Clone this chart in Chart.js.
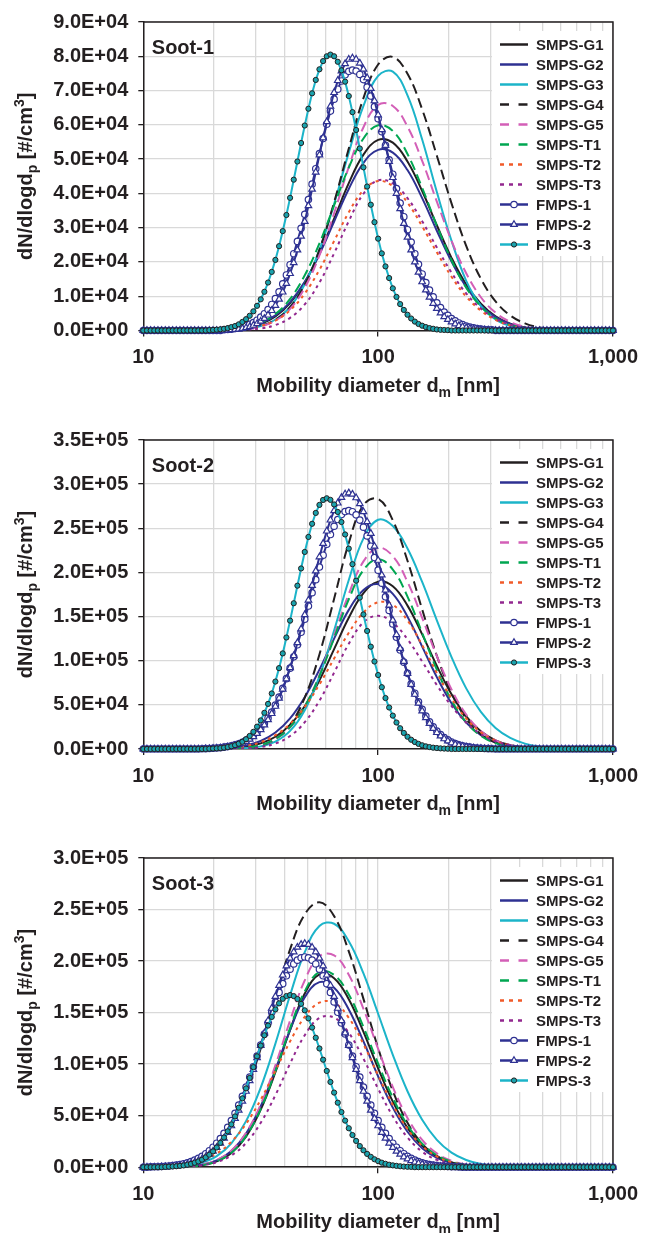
<!DOCTYPE html>
<html>
<head>
  <meta charset="utf-8">
  <title>Soot mobility size distributions</title>
  <script src="https://cdn.jsdelivr.net/npm/chart.js"></script>
  <style>
    html, body { margin: 0; padding: 0; background: #fff; overflow: hidden; }
    .panel { position: absolute; left: 0; }
  </style>
</head>
<body>
  <canvas id="soot1" class="panel" width="647" height="418" style="top:0px"></canvas>
  <canvas id="soot2" class="panel" width="647" height="418" style="top:418px"></canvas>
  <canvas id="soot3" class="panel" width="647" height="418" style="top:836px"></canvas>

<script>
// diameter grids 10-1000 nm: SMPS every 1/16 decade, FMPS every 1/64 decade
const SMPS_PER_DECADE = 16;
const FMPS_PER_DECADE = 64;
const dSmps = [];
for (let j = 0; j <= 2 * SMPS_PER_DECADE; j++) dSmps.push(Math.pow(10, 1 + j / SMPS_PER_DECADE));
const dFmps = [];
for (let i = 0; i <= 2 * FMPS_PER_DECADE; i++) dFmps.push(Math.pow(10, 1 + i / FMPS_PER_DECADE));

const xGrid = [10, 20, 30, 40, 50, 60, 70, 80, 90, 100, 200, 300, 400, 500, 600, 700, 800, 900, 1000];
const xLabels = { 10: '10', 100: '100', 1000: '1,000' };

const seriesNames = ['SMPS-G1', 'SMPS-G2', 'SMPS-G3', 'SMPS-G4', 'SMPS-G5', 'SMPS-T1', 'SMPS-T2', 'SMPS-T3', 'FMPS-1', 'FMPS-2', 'FMPS-3'];

// dN/dlogdp in 1000 #/cm3, SMPS on the 1/16 grid
const soot1G1 = [0,0,0,0,0,0.1,0.3,0.8,1.9,4.1,8.0,14.0,22.5,32.6,43.0,51.3,55.6,54.8,49.3,40.7,30.7,21.2,13.4,7.8,4.1,2.0,0.9,0.4,0.1,0,0,0,0];
const soot1G2 = [0,0,0,0,0,0.1,0.4,0.9,2.1,4.4,8.3,14.2,22.3,31.8,41.3,48.9,52.7,51.9,46.8,38.6,29.1,20.1,12.7,7.3,3.9,1.9,0.8,0.3,0.1,0,0,0,0];
const soot1G3 = [0,0,0,0,0,0.05,0.2,0.5,1.3,3.2,6.9,13.5,23.5,36.9,51.9,65.5,74.3,75.5,68.6,55.7,40.4,26.2,14.5,7.2,3.2,1.3,0.5,0.2,0.05,0,0,0,0];
const soot1G4 = [0,0,0,0,0,0.05,0.15,0.5,1.3,3.1,6.8,13.4,23.6,37.4,53.1,67.8,77.6,79.8,74.9,64.5,51.0,37.1,24.7,15.1,8.5,4.4,2.1,0.9,0.4,0.1,0.05,0,0];
const soot1G5 = [0,0,0,0,0,0.04,0.14,0.4,1.2,2.9,6.3,12.5,21.9,34.2,47.7,59.3,65.8,65.5,59.5,49.5,37.6,26.2,16.7,9.7,5.2,2.5,1.1,0.5,0.2,0.06,0,0,0];
const soot1T1 = [0,0,0,0,0,0.1,0.4,1.0,2.3,4.8,9.2,16.1,25.4,36.5,47.5,56.0,59.9,58.2,51.5,41.6,30.6,20.5,12.5,7.0,3.5,1.6,0.7,0.3,0.1,0,0,0,0];
const soot1T2 = [0,0,0,0,0,0.06,0.2,0.5,1.3,2.9,5.9,10.8,17.7,26.1,34.5,40.9,43.6,42.1,37.3,30.4,22.8,15.7,9.9,5.8,3.1,1.5,0.7,0.3,0.1,0,0,0,0];
const soot1T3 = [0,0,0,0,0,0,0.05,0.2,0.6,1.6,3.7,7.6,14.0,22.5,31.9,39.9,43.8,42.9,38.6,31.9,24.2,16.9,10.8,6.4,3.5,1.7,0.8,0.3,0.1,0,0,0,0];

const soot2G1 = [0,0,0,0,0.1,0.3,1.0,2.7,6.4,13.9,27.3,48.5,77.9,113.2,148.7,176.5,189.6,184.3,162.4,129.9,94.1,61.9,36.9,20.0,9.8,4.4,1.8,0.6,0.2,0.07,0,0,0];
const soot2G2 = [0,0,0,0,0.2,0.6,1.6,4.0,9.1,18.6,34.7,58.7,89.9,125.0,157.6,180.2,186.9,175.7,149.9,116.0,81.4,51.8,29.9,15.7,7.4,3.2,1.3,0.4,0.1,0,0,0,0];
const soot2G3 = [0,0,0,0,0,0.06,0.25,0.9,3.0,8.4,20.5,44.0,82.2,134.2,191.4,238.6,259.7,252.5,227.1,189.2,145.8,104.1,68.7,42.0,23.8,12.5,6.1,2.7,1.1,0.4,0.16,0,0];
const soot2G4 = [0,0,0,0,0,0.07,0.3,1.2,3.9,11.1,27.3,58.3,107.1,170.2,233.4,276.3,283.1,259.0,213.2,158.1,105.6,63.5,34.3,16.8,7.4,2.9,1.0,0.3,0.1,0,0,0,0];
const soot2G5 = [0,0,0,0,0,0.14,0.5,1.6,4.4,11.1,24.6,48.1,83.6,128.7,175.6,212.5,227.9,218.5,189.4,148.5,105.2,67.4,39.1,20.5,9.7,4.2,1.6,0.6,0.2,0,0,0,0];
const soot2T1 = [0,0,0,0,0,0.15,0.5,1.7,4.6,11.4,24.8,48.1,82.6,125.7,169.6,202.8,215.0,203.3,172.6,131.4,89.8,55.1,30.3,15.0,6.6,2.6,0.95,0.3,0.1,0,0,0,0];
const soot2T2 = [0,0,0,0,0.2,0.6,1.5,3.6,7.8,15.6,28.5,47.7,73.1,102.5,131.6,154.6,166.2,163.3,145.5,117.6,86.2,57.3,34.6,18.9,9.4,4.2,1.7,0.6,0.2,0,0,0,0];
const soot2T3 = [0,0,0,0,0,0.05,0.2,0.7,2.3,6.2,14.7,30.4,54.8,86.5,119.2,143.4,150.9,143.0,124.3,99.1,72.5,48.7,30.0,16.9,8.8,4.2,1.8,0.7,0.3,0.1,0,0,0];

const soot3G1 = [0,0,0.17,0.63,2.0,5.6,13.8,29.7,55.8,92.1,133.1,168.5,187.0,183.4,162.9,131.3,95.9,63.6,38.2,20.8,10.3,4.6,1.9,0.7,0.2,0.07,0,0,0,0,0,0,0];
const soot3G2 = [0,0.05,0.25,0.84,2.5,6.7,15.8,32.6,59.2,94.6,133.1,164.8,179.6,174.1,153.0,122.0,88.1,57.8,34.4,18.5,9.1,4.0,1.6,0.6,0.2,0,0,0,0,0,0,0,0];
const soot3G3 = [0.05,0.17,0.57,1.7,4.5,10.8,23.2,44.7,77.3,119.9,166.9,208.6,234.0,236.2,219.2,188.0,148.9,109.0,73.7,46.0,26.5,14.1,7.0,3.2,1.3,0.5,0.18,0,0,0,0,0,0];
const soot3G4 = [0.17,0.54,1.6,4.2,10.0,21.5,41.6,72.9,115.2,164.3,211.3,245.3,257.0,243.6,209.4,163.3,115.5,74.1,43.1,22.7,10.9,4.7,1.9,0.7,0.2,0,0,0,0,0,0,0,0];
const soot3G5 = [0,0.07,0.27,0.89,2.6,6.9,16.1,33.3,61.0,98.9,142.2,181.2,204.7,205.6,186.7,153.7,114.8,77.8,47.8,26.6,13.5,6.2,2.6,0.97,0.33,0.1,0,0,0,0,0,0,0];
const soot3T1 = [0,0,0.17,0.64,2.0,5.7,14.0,30.1,56.5,93.3,134.9,170.7,189.5,186.5,167.5,136.0,100.5,67.5,41.0,22.8,11.5,5.3,2.2,0.8,0.27,0.08,0,0,0,0,0,0,0];
const soot3T2 = [0.16,0.46,1.2,2.9,6.5,13.3,24.7,42.1,65.6,93.5,122.1,145.9,159.6,159.6,144.9,119.4,89.2,60.4,37.1,20.7,10.4,4.8,2.0,0.76,0.26,0.08,0,0,0,0,0,0,0];
const soot3T3 = [0,0.04,0.19,0.63,1.9,4.9,11.4,23.5,43.1,69.9,100.5,128.1,144.7,145.1,130.4,105.2,76.1,49.4,28.8,15.1,7.1,3.0,1.1,0.38,0.12,0,0,0,0,0,0,0,0];

// FMPS on the 1/64 grid, values start at the listed channel index (zero elsewhere)
const soot1From = [22, 23, 18];
const soot1F1 = [0.2,0.3,0.4,0.6,0.8,1.0,1.4,1.8,2.3,3.0,3.9,4.9,6.1,7.6,9.3,11.3,13.6,16.2,19.2,22.4,26.0,29.8,33.9,38.2,42.7,47.2,51.6,56.0,60.2,64.0,67.5,70.4,72.8,74.6,75.6,76,75.7,74.7,73.2,71.0,68.4,65.3,61.8,58.0,54.0,49.8,45.6,41.4,37.2,33.2,29.4,25.8,22.4,19.3,16.5,14.0,11.8,9.8,8.1,6.7,5.4,4.4,3.5,2.8,2.2,1.7,1.3,1.0,0.8,0.6,0.4,0.3,0.2,0.2];
const soot1F2 = [0.15,0.2,0.3,0.4,0.6,0.8,1.1,1.5,2.0,2.7,3.5,4.5,5.8,7.3,9.1,11.2,13.7,16.6,19.8,23.5,27.5,31.8,36.4,41.2,46.2,51.2,56.2,60.9,65.4,69.4,72.9,75.7,77.8,79.1,79.5,79.1,78.0,76.2,73.7,70.6,67.0,62.9,58.6,54.0,49.3,44.6,40.0,35.5,31.2,27.2,23.5,20.0,17.0,14.2,11.8,9.7,7.9,6.4,5.1,4.0,3.2,2.5,1.9,1.4,1.1,0.8,0.6,0.45,0.3,0.23,0.17,0.12];
const soot1F3 = [0.1,0.16,0.24,0.35,0.5,0.7,1.0,1.3,1.8,2.5,3.3,4.3,5.6,7.2,9.1,11.3,14.0,17.1,20.6,24.6,29.0,33.7,38.7,44.0,49.3,54.7,59.8,64.7,69.2,73.1,76.2,78.6,80.0,80.5,80.0,78.4,75.9,72.6,68.4,63.7,58.5,53.1,47.6,42.0,36.7,31.6,26.8,22.5,18.7,15.3,12.3,9.8,7.7,6.0,4.6,3.5,2.6,1.9,1.4,1.0,0.7,0.5,0.3,0.2,0.15,0.1];

const soot2From = [16, 17, 18];
const soot2F1 = [0.3,0.4,0.6,0.8,1.1,1.5,2.1,2.7,3.6,4.7,6.0,7.7,9.9,12.4,15.5,19.3,23.7,28.9,35.0,41.9,49.8,58.8,68.7,79.7,91.6,104.4,118.0,132.2,147.0,161.9,177.0,191.8,206.1,219.5,231.9,242.9,252.3,259.9,265.5,268.9,270,268.8,265.2,259.3,251.3,241.4,229.7,216.8,202.6,187.8,172.4,157.0,141.6,126.6,112.1,98.4,85.7,73.9,63.2,53.5,44.9,37.4,30.8,25.2,20.4,16.4,13.0,10.3,8.0,6.2,4.8,3.6,2.7,2.1,1.5,1.1,0.8,0.6,0.4,0.3];
const soot2F2 = [0.3,0.4,0.6,0.9,1.2,1.6,2.2,2.9,3.9,5.1,6.7,8.6,11.0,14.0,17.6,21.9,27.1,33.1,40.1,48.3,57.5,67.8,79.4,92.0,105.7,120.4,136.0,152.1,168.6,185.2,201.7,217.6,232.8,246.8,259.3,269.9,278.5,284.8,288.7,290,288.6,284.5,277.8,268.7,257.4,244.2,229.6,213.7,197.1,180.0,162.9,145.9,129.5,113.9,99.2,85.6,73.1,61.9,51.9,43.1,35.4,28.8,23.3,18.6,14.7,11.5,9.0,6.9,5.2,4.0,3.0,2.2,1.6,1.2,0.8,0.6,0.4,0.3];
const soot2F3 = [0.3,0.5,0.7,1.0,1.5,2.2,3.1,4.3,6.0,8.2,11.1,14.8,19.5,25.3,32.4,41.0,51.1,62.9,76.4,91.6,108.3,126.3,145.4,165.1,185.0,204.5,223.2,240.2,255.1,267.4,276.5,282.1,284,282.2,277.0,268.5,257.1,243.0,227.0,209.3,190.6,171.5,152.4,133.7,115.9,99.1,83.8,70.0,57.7,47.0,37.8,30.0,23.5,18.2,13.9,10.5,7.9,5.8,4.2,3.0,2.2,1.5,1.1,0.7,0.5,0.3];

const soot3From = [2, 4, 6];
const soot3F1 = [0.3,0.4,0.5,0.7,0.9,1.2,1.6,2.0,2.6,3.4,4.3,5.5,6.9,8.6,10.6,13.1,16.0,19.4,23.3,27.8,32.9,38.7,45.2,52.3,60.2,68.7,77.8,87.4,97.5,107.9,118.6,129.3,140.0,150.3,160.3,169.6,178.1,185.7,192.1,197.2,200.9,203.2,204,203.2,200.9,197.2,192.1,185.7,178.1,169.6,160.3,150.3,140.0,129.3,118.6,107.9,97.5,87.4,77.8,68.7,60.2,52.3,45.2,38.7,32.9,27.8,23.3,19.4,16.0,13.1,10.6,8.6,6.9,5.5,4.3,3.4,2.6,2.0,1.6,1.2,0.9,0.7,0.5,0.4,0.3];
const soot3F2 = [0.26,0.35,0.5,0.7,0.9,1.2,1.6,2.2,2.9,3.8,4.8,6.2,7.9,10.0,12.5,15.5,19.1,23.2,28.1,33.7,40.1,47.2,55.2,64.0,73.6,83.9,94.8,106.3,118.1,130.2,142.2,154.1,165.6,176.4,186.4,195.3,202.8,208.9,213.4,216.1,217,216.1,213.4,208.9,202.8,195.3,186.4,176.4,165.6,154.1,142.2,130.2,118.1,106.3,94.8,83.9,73.6,64.0,55.2,47.2,40.1,33.7,28.1,23.2,19.1,15.5,12.5,10.0,7.9,6.2,4.8,3.8,2.9,2.2,1.6,1.2,0.9,0.7,0.5,0.35,0.26];
const soot3F3 = [0.3,0.5,0.7,0.9,1.3,1.7,2.4,3.2,4.3,5.6,7.3,9.5,12.1,15.3,19.1,23.6,28.8,34.8,41.6,49.3,57.7,66.8,76.5,86.6,97.1,107.6,118.0,128.0,137.4,145.8,153.1,159.0,163.4,166.1,167,166.0,163.2,158.5,152.2,144.4,135.5,125.6,115.2,104.3,93.4,82.7,72.4,62.6,53.5,45.2,37.8,31.2,25.5,20.5,16.4,12.9,10.1,7.7,5.9,4.4,3.3,2.4,1.8,1.3,0.9,0.6,0.4,0.3];

const FONT = "'Liberation Sans', Arial, sans-serif";
const INK = '#231f20';
const GRID = '#d9d9d9';
const BLUE = '#2e3192';
const CYAN = '#1cb4c9';
const TEAL = '#1aa3ad';

const looks = [
  { color: INK, dash: [] },
  { color: BLUE, dash: [] },
  { color: CYAN, dash: [] },
  { color: INK, dash: [10, 5], keyDash: [9, 9.5] },
  { color: '#d35fb7', dash: [10, 5], keyDash: [9, 9.5] },
  { color: '#00a651', dash: [10, 5], keyDash: [9, 9.5] },
  { color: '#f15a29', dash: [3, 4], keyDash: [4, 5], keyEnd: 522 },
  { color: '#92278f', dash: [3, 4], keyDash: [4, 5], keyEnd: 522 },
  { color: BLUE, marker: 'circle', r: 3.2, fill: '#fff', edge: BLUE, edgeW: 1.2 },
  { color: BLUE, marker: 'triangle', r: 3.8, fill: '#fff', edge: BLUE, edgeW: 1.2 },
  { color: CYAN, marker: 'circle', r: 2.6, fill: TEAL, edge: INK, edgeW: 1 }
];

Chart.defaults.font.family = FONT;

function sci(v) {
  const parts = Number(v).toExponential(1).split('e');
  const n = parseInt(parts[1], 10);
  return parts[0] + 'E' + (n < 0 ? '-' : '+') + String(Math.abs(n)).padStart(2, '0');
}

function drawMarker(ctx, s, x, y) {
  ctx.fillStyle = s.fill;
  ctx.strokeStyle = s.edge;
  ctx.lineWidth = s.edgeW;
  ctx.beginPath();
  if (s.marker === 'triangle') {
    ctx.moveTo(x, y - s.r);
    ctx.lineTo(x + 0.866 * s.r, y + 0.5 * s.r);
    ctx.lineTo(x - 0.866 * s.r, y + 0.5 * s.r);
    ctx.closePath();
  } else {
    ctx.arc(x, y, s.r, 0, Math.PI * 2);
  }
  ctx.fill();
  ctx.stroke();
}

// text with sub/superscripts, parts = [[text, ''|'sub'|'sup'], ...]
function richText(ctx, parts, x, y, size) {
  const small = Math.round(size * 0.7);
  const widths = parts.map(p => {
    ctx.font = 'bold ' + (p[1] ? small : size) + 'px ' + FONT;
    return ctx.measureText(p[0]).width;
  });
  let cx = x - widths.reduce((a, b) => a + b, 0) / 2;
  parts.forEach((p, i) => {
    ctx.font = 'bold ' + (p[1] ? small : size) + 'px ' + FONT;
    const dy = p[1] === 'sub' ? size * 0.27 : p[1] === 'sup' ? -size * 0.42 : 0;
    ctx.fillText(p[0], cx, y + dy);
    cx += widths[i];
  });
}

const decor = {
  id: 'decor',
  beforeDatasetsDraw(chart, args, opts) {
    const { ctx, chartArea: a } = chart;
    ctx.save();
    // top/right frame
    ctx.strokeStyle = INK;
    ctx.lineWidth = 1.5;
    ctx.beginPath();
    ctx.moveTo(a.left, a.top);
    ctx.lineTo(a.right, a.top);
    ctx.lineTo(a.right, a.bottom);
    ctx.stroke();

    ctx.fillStyle = INK;
    ctx.font = 'bold 20px ' + FONT;
    ctx.textAlign = 'left';
    ctx.textBaseline = 'alphabetic';
    ctx.fillText(opts.title, a.left + 8.5, a.top + 31.7);

    // legend box
    ctx.fillStyle = '#fff';
    ctx.fillRect(492, a.top + 9, 120, 225);
    ctx.font = 'bold 15px ' + FONT;
    ctx.textBaseline = 'middle';
    seriesNames.forEach((name, k) => {
      const s = looks[k];
      const y = a.top + 22.5 + 20 * k;
      ctx.strokeStyle = s.color;
      ctx.lineWidth = 2.5;
      ctx.setLineDash(s.keyDash || []);
      ctx.beginPath();
      ctx.moveTo(500, y);
      ctx.lineTo(s.keyEnd || 528, y);
      ctx.stroke();
      ctx.setLineDash([]);
      if (s.marker) drawMarker(ctx, s, 514, y);
      ctx.fillStyle = INK;
      ctx.fillText(name, 536, y + 1);
    });
    ctx.restore();
  },
  afterDraw(chart) {
    const { ctx, chartArea: a } = chart;
    ctx.save();
    ctx.fillStyle = INK;
    ctx.textAlign = 'left';
    ctx.textBaseline = 'alphabetic';
    richText(ctx, [['Mobility diameter d', ''], ['m', 'sub'], [' [nm]', '']], (a.left + a.right) / 2, a.bottom + 61, 20);
    ctx.translate(32, (a.top + a.bottom) / 2);
    ctx.rotate(-Math.PI / 2);
    richText(ctx, [['dN/dlogd', ''], ['p', 'sub'], [' [#/cm', ''], ['3', 'sup'], [']', '']], 0, 0, 20);
    ctx.restore();
  }
};

function buildDatasets(smps, fmpsFrom, fmps) {
  const sets = [];
  smps.forEach((vals, k) => {
    const s = looks[k];
    sets.push({
      label: seriesNames[k],
      data: dSmps.map((d, j) => ({ x: d, y: vals[j] * 1e3 })),
      borderColor: s.color,
      borderWidth: 2,
      borderDash: s.dash,
      pointRadius: 0,
      tension: 0.4,
      order: 20 - k
    });
  });
  fmps.forEach((vals, n) => {
    const k = 8 + n;
    const s = looks[k];
    const from = fmpsFrom[n];
    sets.push({
      label: seriesNames[k],
      data: dFmps.map((d, i) => {
        const v = i >= from && i < from + vals.length ? vals[i - from] : 0;
        return { x: d, y: v * 1e3 };
      }),
      borderColor: s.color,
      borderWidth: 2,
      pointStyle: s.marker,
      pointRadius: s.r,
      pointBackgroundColor: s.fill,
      pointBorderColor: s.edge,
      pointBorderWidth: s.edgeW,
      tension: 0,
      clip: false,
      order: 20 - k
    });
  });
  return sets;
}

function drawPanel(p) {
  const plotH = 310.5;
  new Chart(document.getElementById(p.id), {
    type: 'line',
    data: { datasets: buildDatasets(p.smps, p.fmpsFrom, p.fmps) },
    options: {
      responsive: false,
      animation: false,
      events: [],
      layout: { padding: { top: p.padTop, right: 26.3, bottom: 0, left: 0 } },
      plugins: {
        legend: { display: false },
        tooltip: { enabled: false },
        decor: { title: p.title }
      },
      scales: {
        x: {
          type: 'logarithmic',
          min: 10,
          max: 1000,
          afterFit: s => { s.height = 418 - p.padTop - plotH; },
          afterBuildTicks: s => { s.ticks = xGrid.map(v => ({ value: v, major: false })); },
          border: { color: INK, width: 1.5 },
          grid: {
            color: GRID,
            lineWidth: 1.3,
            tickLength: 6,
            tickColor: c => (c.tick && xLabels[c.tick.value]) ? INK : 'rgba(0,0,0,0)'
          },
          ticks: {
            autoSkip: false,
            maxRotation: 0,
            padding: 9,
            color: INK,
            font: { size: 20, weight: 'bold' },
            callback: v => xLabels[v] || ''
          }
        },
        y: {
          min: 0,
          max: p.yMax,
          afterFit: s => { s.width = 143.3; },
          border: { color: INK, width: 1.5 },
          grid: { color: GRID, lineWidth: 1.3, tickLength: 5, tickColor: INK },
          ticks: {
            stepSize: p.yStep,
            padding: 10,
            color: INK,
            font: { size: 20, weight: 'bold' },
            callback: v => sci(v)
          }
        }
      }
    },
    plugins: [decor]
  });
}

drawPanel({ id: 'soot1', title: 'Soot-1', yMax: 9e4, yStep: 1e4, padTop: 20,
  smps: [soot1G1, soot1G2, soot1G3, soot1G4, soot1G5, soot1T1, soot1T2, soot1T3],
  fmpsFrom: soot1From, fmps: [soot1F1, soot1F2, soot1F3] });
drawPanel({ id: 'soot2', title: 'Soot-2', yMax: 3.5e5, yStep: 5e4, padTop: 20.5,
  smps: [soot2G1, soot2G2, soot2G3, soot2G4, soot2G5, soot2T1, soot2T2, soot2T3],
  fmpsFrom: soot2From, fmps: [soot2F1, soot2F2, soot2F3] });
drawPanel({ id: 'soot3', title: 'Soot-3', yMax: 3e5, yStep: 5e4, padTop: 20.7,
  smps: [soot3G1, soot3G2, soot3G3, soot3G4, soot3G5, soot3T1, soot3T2, soot3T3],
  fmpsFrom: soot3From, fmps: [soot3F1, soot3F2, soot3F3] });
</script>
</body>
</html>
